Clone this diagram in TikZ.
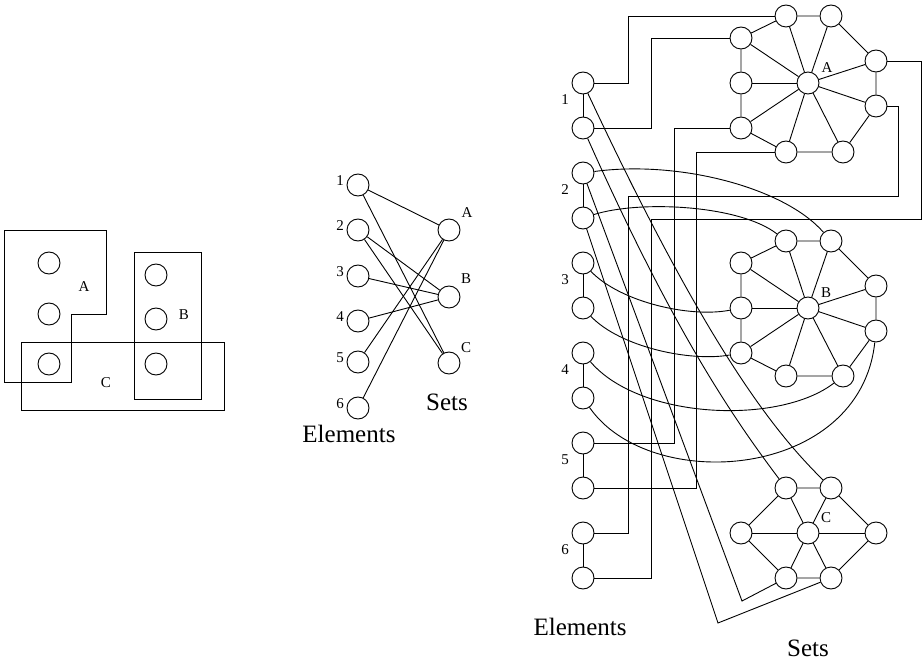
\documentclass[tikz,border=0pt]{standalone}
\usepackage{fontspec}
\setmainfont{Liberation Serif}
\begin{document}
\begin{tikzpicture}[x=1pt,y=-1pt,line width=0.9pt,
  vtx/.style={circle,draw,minimum size=22pt,inner sep=0pt},
  lbl/.style={font=\fontsize{15}{18}\selectfont,inner sep=0pt},
  bigtext/.style={font=\fontsize{25}{30}\selectfont,inner sep=0pt,anchor=base}]
\useasboundingbox (0,0) rectangle (924,663);

% ---------- set system drawn as regions ----------
\draw (4,230) -- (106,230) -- (106,314) -- (71,314) -- (71,382) -- (4,382) -- cycle;
\draw (134,252) rectangle (201,399);
\draw (21,342) rectangle (224,410);
\node[vtx] (L1) at (49,263) {};
\node[vtx] (L2) at (49,314) {};
\node[vtx] (L3) at (49,364) {};
\node[vtx] (L4) at (156,275) {};
\node[vtx] (L5) at (156,319) {};
\node[vtx] (L6) at (156,364) {};
\node[lbl] (LA) at (84,287) {A};
\node[lbl] (LB) at (184,315) {B};
\node[lbl] (LC) at (106,383) {C};

% ---------- bipartite incidence graph ----------
\foreach \i/\y in {1/185,2/230,3/276,4/321,5/362,6/408}{
  \node[vtx] (m\i) at (358,\y) {};
  \node[lbl] (mn\i) at (340,\y-4) {\i};
}
\node[vtx] (mA) at (449,230) {};
\node[vtx] (mB) at (449,297) {};
\node[vtx] (mC) at (449,363) {};
\node[lbl] (mlA) at (467,213) {A};
\node[lbl] (mlB) at (466,279) {B};
\node[lbl] (mlC) at (466,348) {C};
\draw (m1) -- (mA);
\draw (m1) -- (mC);
\draw (m2) -- (mB);
\draw (m2) -- (mC);
\draw (m3) -- (mB);
\draw (m4) -- (mB);
\draw (m5) -- (mA);
\draw (m6) -- (mA);
\node[bigtext] (mSets) at (447,410) {Sets};
\node[bigtext,anchor=base west] (mElem) at (302,442) {Elements};

% ---------- gadget construction: element pairs ----------
\foreach \i/\y in {1/83,2/173,3/263,4/353,5/443,6/533}{
  \node[vtx] (e\i a) at (583,\y) {};
  \node[vtx] (e\i b) at (583,\y+45) {};
  \draw (e\i a) -- (e\i b);
  \node[lbl] (en\i) at (565,\y+17) {\i};
}
\node[bigtext,anchor=base east] (rElem) at (627,635) {Elements};
\node[bigtext] (rSets) at (808,656) {Sets};

% ---------- wheel for set A ----------
\node[vtx] (Ac) at (808,83) {};
\node[vtx] (Atop1) at (786,16) {};
\node[vtx] (Atop2) at (831,16) {};
\node[vtx] (AUL) at (741,38) {};
\node[vtx] (Aleft) at (741,83) {};
\node[vtx] (ALL) at (741,128) {};
\node[vtx] (Abot1) at (786,152) {};
\node[vtx] (Abot2) at (843,152) {};
\node[vtx] (ARL) at (876,106) {};
\node[vtx] (ARU) at (876,61) {};
\node[lbl] (AL) at (827,68) {A};
\draw (Atop1) -- (Atop2) -- (ARU) -- (ARL) -- (Abot2) -- (Abot1) -- (ALL) -- (Aleft) -- (AUL) -- (Atop1);
\foreach \n in {Atop1,Atop2,AUL,Aleft,ALL,Abot1,Abot2,ARL,ARU} \draw (Ac) -- (\n);

% ---------- wheel for set B ----------
\node[vtx] (Bc) at (808,308) {};
\node[vtx] (Btop1) at (786,241) {};
\node[vtx] (Btop2) at (831,241) {};
\node[vtx] (BUL) at (741,263) {};
\node[vtx] (Bleft) at (741,308) {};
\node[vtx] (BLL) at (741,353) {};
\node[vtx] (Bbot1) at (786,376) {};
\node[vtx] (Bbot2) at (843,376) {};
\node[vtx] (BRL) at (876,331) {};
\node[vtx] (BRU) at (876,286) {};
\node[lbl] (BL) at (826,293) {B};
\draw (Btop1) -- (Btop2) -- (BRU) -- (BRL) -- (Bbot2) -- (Bbot1) -- (BLL) -- (Bleft) -- (BUL) -- (Btop1);
\foreach \n in {Btop1,Btop2,BUL,Bleft,BLL,Bbot1,Bbot2,BRL,BRU} \draw (Bc) -- (\n);

% ---------- wheel for set C ----------
\node[vtx] (Cc) at (808,533) {};
\node[vtx] (Ctop1) at (786,488) {};
\node[vtx] (Ctop2) at (831,488) {};
\node[vtx] (Cleft) at (741,533) {};
\node[vtx] (Cright) at (876,533) {};
\node[vtx] (Cbot1) at (786,578) {};
\node[vtx] (Cbot2) at (831,578) {};
\node[lbl] (CL) at (826,518) {C};
\draw (Ctop1) -- (Ctop2) -- (Cright) -- (Cbot2) -- (Cbot1) -- (Cleft) -- (Ctop1);
\foreach \n in {Ctop1,Ctop2,Cleft,Cright,Cbot1,Cbot2} \draw (Cc) -- (\n);

% ---------- links to A (orthogonal routing) ----------
\draw (e1a) -- (628,83) |- (Atop1);
\draw (e1b) -- (651,128) |- (AUL);
\draw (e5a) -- (674,443) |- (ALL);
\draw (e5b) -- (696,488) |- (Abot1);
\draw (e6a) -- (628,533) -- (628,196) -- (898,196) |- (ARL);
\draw (e6b) -- (651,578) -- (651,219) -- (921,219) |- (ARU);

% ---------- links to B (arcs) ----------
\draw (e2a) .. controls (680,160) and (785,188) .. (Btop2);
\draw (e2b) .. controls (640,200) and (740,205) .. (Btop1);
\draw (e3a) .. controls (620,302) and (690,318) .. (Bleft);
\draw (e3b) .. controls (620,347) and (690,362) .. (BLL);
\draw (e4a) .. controls (640,420) and (780,425) .. (Bbot2);
\draw (e4b) .. controls (650,495) and (860,480) .. (BRL);

% ---------- links to C (gentle curves and bent lines) ----------
\coordinate (k1) at (742,601);
\coordinate (k2) at (718,623);
\draw (e1a) .. controls (714,363) and (781,438) .. (Ctop2);
\draw (e1b) .. controls (672,328) and (733,418) .. (Ctop1);
\draw (e2a) -- (k1) -- (Cbot1);
\draw (e2b) -- (k2) -- (Cbot2);
\end{tikzpicture}
\end{document}
